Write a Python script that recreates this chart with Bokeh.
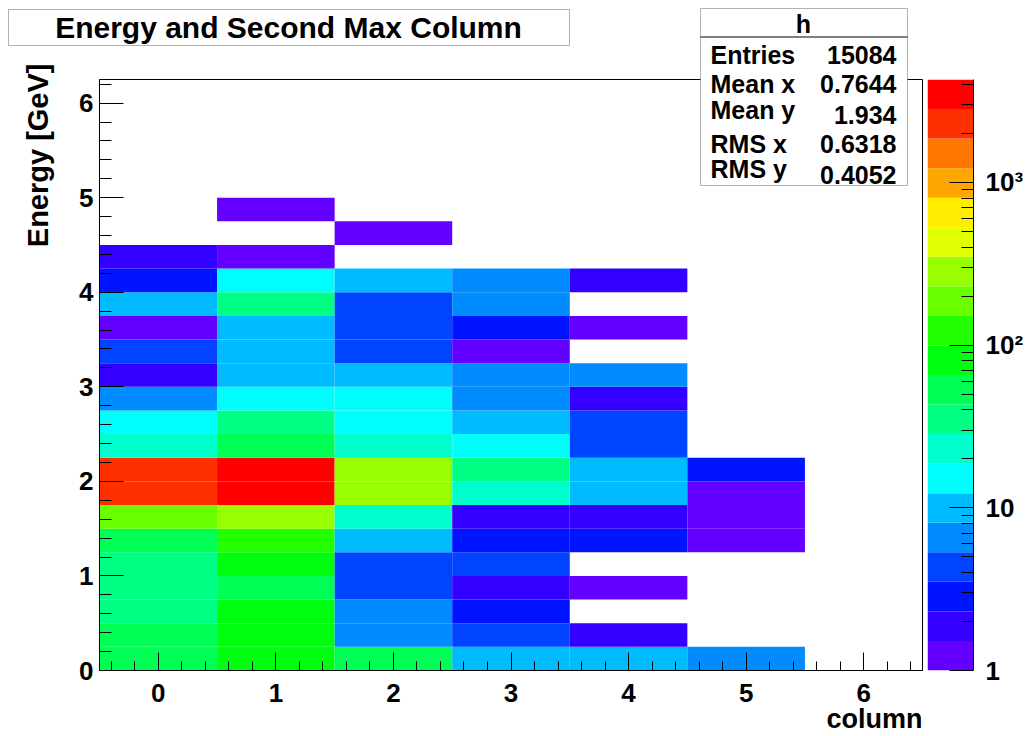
import colorsys
from bokeh.plotting import figure
from bokeh.models import Range1d, FixedTicker, ColumnDataSource, Label, BoxAnnotation
from bokeh.layouts import row, column
from bokeh.transform import log_cmap
from bokeh.embed import file_html
from bokeh.resources import INLINE

# ---------------- data ----------------
columns = [0, 1, 2, 3, 4, 5, 6]
energy_bins = [0.125, 0.375, 0.625, 0.875, 1.125, 1.375, 1.625, 1.875, 2.125, 2.375,
               2.625, 2.875, 3.125, 3.375, 3.625, 3.875, 4.125, 4.375, 4.625, 4.875,
               5.125, 5.375, 5.625, 5.875, 6.125]
counts_col0 = [50, 48, 36, 33, 38, 55, 190, 2300, 2150, 24, 15, 7, 2, 4, 1, 10, 3, 2, 0, 0, 0, 0, 0, 0, 0]
counts_col1 = [85, 90, 78, 58, 82, 120, 290, 3900, 4100, 55, 36, 15, 10, 11, 10, 34, 15, 1, 0, 1, 0, 0, 0, 0, 0]
counts_col2 = [52, 7, 6, 4, 5, 10, 24, 300, 270, 22, 16, 14, 10, 4, 5, 4, 9, 0, 1, 0, 0, 0, 0, 0, 0]
counts_col3 = [11, 5, 3, 2, 4, 3, 2, 22, 32, 14, 10, 7, 6, 1, 3, 7, 6, 0, 0, 0, 0, 0, 0, 0, 0]
counts_col4 = [10, 2, 0, 1, 0, 3, 2, 9, 11, 5, 4, 2, 7, 0, 1, 0, 2, 0, 0, 0, 0, 0, 0, 0, 0]
counts_col5 = [7, 0, 0, 0, 0, 1, 1, 1, 3, 0, 0, 0, 0, 0, 0, 0, 0, 0, 0, 0, 0, 0, 0, 0, 0]
counts_col6 = [0, 0, 0, 0, 0, 0, 0, 0, 0, 0, 0, 0, 0, 0, 0, 0, 0, 0, 0, 0, 0, 0, 0, 0, 0]
all_counts = [counts_col0, counts_col1, counts_col2, counts_col3, counts_col4, counts_col5, counts_col6]

z_ticks = [1, 10, 100, 1000]
z_tick_labels = ["1", "10", "10\u00b2", "10\u00b3"]
Z_MIN, Z_MAX = 1, 4290
N_LEVELS = 20

stats_names = ["Entries", "Mean x", "Mean y", "RMS x", "RMS y"]
stats_values = ["15084", "0.7644", "1.934", "0.6318", "0.4052"]

TITLE = "Energy and Second Max Column"
X_LABEL = "column"
Y_LABEL = "Energy [GeV]"
FONT = "Liberation Sans"

# ---------------- layout geometry (page pixels) ----------------
W, H = 1031, 736
FRAME_L, FRAME_R, FRAME_T, FRAME_B = 99, 922, 79, 670
CBAR_L, CBAR_R = 927, 973


def root_color(idx):
    hue = 0.0 if idx >= 49 else 280.0 - (idx + 1) * 5.6
    r, g, b = colorsys.hls_to_rgb(hue / 360.0, 0.5, 1.0)
    return "#%02x%02x%02x" % (round(r * 255), round(g * 255), round(b * 255))


palette = [root_color(int((j + 0.99) * 50 / N_LEVELS)) for j in range(N_LEVELS)]

xs, ys, vs = [], [], []
for c, col_counts in zip(columns, all_counts):
    for e, v in zip(energy_bins, col_counts):
        if v > 0:
            xs.append(c); ys.append(e); vs.append(v)
src = ColumnDataSource(dict(x=xs, y=ys, v=vs))

# ---------------- main histogram ----------------
p = figure(width=CBAR_L, height=H, x_range=Range1d(-0.5, 6.5), y_range=Range1d(0, 6.25),
           output_backend="svg", toolbar_location=None,
           min_border_left=FRAME_L, min_border_right=CBAR_L - FRAME_R,
           min_border_top=FRAME_T, min_border_bottom=H - FRAME_B)
p.grid.visible = False
p.outline_line_color = "black"
p.outline_line_width = 1
p.background_fill_color = "white"
p.border_fill_color = "white"

p.rect(x="x", y="y", width=1, height=0.25, source=src, line_color=None,
       fill_color=log_cmap("v", palette, Z_MIN, Z_MAX))

xa = p.xaxis[0]
xa.ticker = FixedTicker(ticks=columns, minor_ticks=[round(-0.4 + 0.2 * i, 2) for i in range(35)])
ya = p.yaxis[0]
ya.ticker = FixedTicker(ticks=[0, 1, 2, 3, 4, 5, 6], minor_ticks=[round(0.2 * i, 2) for i in range(32)])
for ax, maj, mnr in ((xa, 18, 9), (ya, 24, 12)):
    ax.major_tick_in = maj
    ax.major_tick_out = 0
    ax.minor_tick_in = mnr
    ax.minor_tick_out = 0
    ax.axis_line_color = "black"
    ax.major_tick_line_color = "black"
    ax.minor_tick_line_color = "black"
    ax.major_label_text_font = FONT
    ax.major_label_text_font_style = "bold"
    ax.major_label_text_font_size = "26px"
    ax.major_label_text_color = "black"
xa.major_label_standoff = 13
ya.major_label_standoff = 6

# ---------------- colour bar ----------------
c = figure(width=W - CBAR_L, height=H, x_range=Range1d(0, 1), y_range=Range1d(Z_MIN, Z_MAX),
           y_axis_type="log", y_axis_location="right",
           output_backend="svg", toolbar_location=None,
           min_border_left=0, min_border_right=W - CBAR_R, min_border_top=FRAME_T,
           min_border_bottom=H - FRAME_B)
c.grid.visible = False
c.outline_line_color = None
c.xaxis.visible = False
c.border_fill_color = "white"
edges = [Z_MIN * (Z_MAX / Z_MIN) ** (i / N_LEVELS) for i in range(N_LEVELS + 1)]
c.quad(left=0, right=1, bottom=edges[:-1], top=edges[1:], fill_color=palette, line_color=None)
ca = c.yaxis[0]
ca.ticker = FixedTicker(ticks=z_ticks,
                        minor_ticks=[2, 3, 4, 5, 6, 7, 8, 9, 20, 30, 40, 50, 60, 70, 80, 90,
                                     200, 300, 400, 500, 600, 700, 800, 900, 2000, 3000, 4000])
ca.major_label_overrides = dict(zip(z_ticks, z_tick_labels))
ca.major_tick_in = 24
ca.major_tick_out = 0
ca.minor_tick_in = 12
ca.minor_tick_out = 0
ca.major_label_standoff = 12
ca.axis_line_color = "black"
ca.major_label_text_font = FONT
ca.major_label_text_font_style = "bold"
ca.major_label_text_font_size = "26px"
ca.major_label_text_color = "black"

# ---------------- transparent overlay for the boxes and free texts ----------------
ov = figure(width=W, height=H, x_range=Range1d(0, 1), y_range=Range1d(0, 1),
            x_axis_location=None, y_axis_location=None,
            output_backend="svg", toolbar_location=None,
            min_border_left=0, min_border_right=0, min_border_top=0, min_border_bottom=0)
ov.grid.visible = False
ov.outline_line_color = None
ov.background_fill_alpha = 0
ov.border_fill_alpha = 0
ov.margin = (-H, 0, 0, 0)


def cbox(l, r, t, b, fill="white", line="black"):
    ov.add_layout(BoxAnnotation(left=l, right=r, top=t, bottom=b,
                                left_units="canvas", right_units="canvas",
                                top_units="canvas", bottom_units="canvas",
                                fill_color=fill, fill_alpha=1, line_color=line, line_width=1))


def ctext(x, y, text, size, align="left", angle=0.0):
    ov.add_layout(Label(x=x, y=y, x_units="canvas", y_units="canvas", text=text,
                        angle=angle, text_align=align, text_baseline="middle", text_font=FONT,
                        text_font_style="bold", text_font_size=size, text_color="black"))


# title box
cbox(8, 569, 9, 45)
ctext(288, 27, TITLE, "30px", align="center")

# stats box
cbox(700, 907, 8, 185)
cbox(700, 907, 36, 37, fill="black", line=None)
ctext(803, 23, "h", "25px", align="center")
name_centres = [54, 83, 109, 143, 168]
value_centres = [54, 83, 114, 143, 174]
for nm, vl, y1, y2 in zip(stats_names, stats_values, name_centres, value_centres):
    ctext(710, y1, nm, "25px", align="left")
    ctext(896, y2, vl, "25px", align="right")

# axis titles
ctext(922, 718, X_LABEL, "27px", align="right")
ctext(38, 63, Y_LABEL, "29px", align="right", angle=1.5707963)

layout = column(row(p, c, spacing=0), ov, spacing=0)
open("out.html", "w").write(file_html(layout, INLINE))
